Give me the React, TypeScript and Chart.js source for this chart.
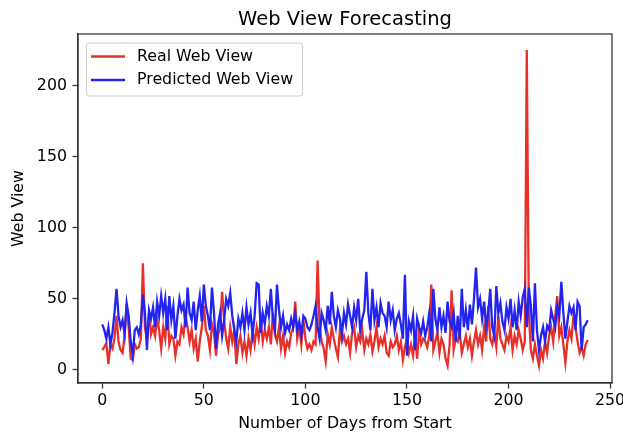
import React, { useEffect, useRef } from "react";
import { Chart, registerables } from "chart.js";

Chart.register(...registerables);

const TITLE = "Web View Forecasting";
const X_LABEL = "Number of Days from Start";
const Y_LABEL = "Web View";
const SERIES_NAMES = ["Real Web View", "Predicted Web View"];
const X_TICKS = [0, 50, 100, 150, 200, 250];
const Y_TICKS = [0, 50, 100, 150, 200];

const realViews = [
  14, 16, 19, 4, 18, 15, 22, 38, 20, 14,
  12, 24, 46, 30, 8, 7, 18, 15, 16, 22,
  75, 30, 22, 40, 25, 30, 24, 36, 28, 15,
  30, 22, 45, 18, 24, 22, 10, 20, 18, 30,
  25, 38, 30, 20, 28, 15, 22, 6, 20, 30,
  45, 28, 24, 14, 32, 26, 10, 25, 30, 55,
  35, 22, 15, 30, 20, 28, 4, 18, 24, 12,
  20, 10, 22, 14, 28, 18, 30, 22, 35, 20,
  28, 22, 30, 18, 40, 25, 20, 30, 15, 24,
  12, 20, 16, 26, 30, 48, 22, 30, 18, 35,
  22, 15, 18, 14, 20, 18, 77, 30, 20, 15,
  6, 25, 18, 30, 22, 15, 9, 28, 20, 24,
  18, 22, 12, 26, 30, 16, 24, 20, 28, 14,
  22, 18, 25, 13, 20, 30, 16, 22, 18, 24,
  12, 10, 20, 16, 18, 24, 14, 20, 7, 16,
  22, 12, 18, 10, 24, 8, 28, 18, 22, 20,
  16, 24, 60, 14, 20, 26, 12, 22, 18, 8,
  3, 18, 56, 14, 22, 20, 26, 12, 18, 24,
  16, 22, 10, 20, 28, 18, 24, 14, 30, 20,
  45, 22, 18, 26, 16, 38, 22, 18, 14, 24,
  20, 30, 14, 24, 18, 28, 22, 14, 20, 225,
  40, 14, 8, 18, 10, 3, 14, 8, 20, 12,
  24, 30, 20, 38, 52, 24, 30, 18, 5, 20,
  28, 22, 38, 30, 20, 12, 16, 10, 18, 21,
];

const predictedViews = [
  32, 28, 22, 30, 18, 26, 40, 57, 38, 30,
  35, 25, 47, 38, 20, 10, 28, 30, 25, 32,
  53, 40, 14, 42, 36, 44, 30, 48, 38, 52,
  40, 50, 28, 52, 35, 45, 22, 38, 50, 42,
  46, 30, 58, 40, 35, 48, 28, 42, 52, 34,
  60, 45, 38, 28, 58, 40, 15, 32, 40, 24,
  35, 50, 45, 54, 38, 28, 20, 36, 30, 40,
  28, 44, 32, 40, 25, 38, 61, 60, 26, 40,
  32, 45, 38, 57, 36, 28, 60, 42, 30, 38,
  26, 32, 28, 36, 30, 40, 28, 34, 24, 38,
  36, 30, 28, 32, 38, 45, 30, 22, 40, 35,
  28, 45, 32, 55, 38, 30, 42, 36, 25, 40,
  32, 46, 38, 30, 44, 35, 50, 28, 36, 42,
  69, 40, 28, 57, 35, 44, 30, 47, 40, 38,
  30, 48, 35, 42, 28, 36, 40, 32, 22, 67,
  10, 34, 28, 38, 14, 36, 30, 26, 34, 24,
  30, 40, 20, 57, 36, 28, 44, 30, 38, 26,
  48, 34, 30, 40, 20, 38, 22, 57, 30, 42,
  28, 46, 32, 50, 72, 44, 50, 36, 48, 30,
  40, 57, 30, 24, 59, 40, 47, 34, 28, 44,
  36, 50, 30, 42, 28, 48, 38, 51, 57, 30,
  58, 45, 20, 61, 28, 14, 24, 30, 20, 31,
  28, 42, 36, 30, 45, 38, 62, 40, 22, 34,
  45, 40, 44, 28, 48, 45, 14, 30, 32, 35,
];

const RED = "#e8302a";
const BLUE = "#2424f0";
const SPINE = "#333333";
const FONT_FAMILY = "'DejaVu Sans', 'Liberation Sans', sans-serif";
const BASE = 15.8;

const overlayPlugin = {
  id: "overlay",
  afterDraw(chart: any) {
    const { ctx, chartArea: a } = chart;
    ctx.save();
    // full frame (top & right spines)
    ctx.strokeStyle = SPINE;
    ctx.lineWidth = 1.26;
    ctx.strokeRect(a.left, a.top, a.right - a.left, a.bottom - a.top);

    // title
    ctx.fillStyle = "#000";
    ctx.font = `19.5px ${FONT_FAMILY}`;
    ctx.textAlign = "center";
    ctx.textBaseline = "alphabetic";
    ctx.fillText(TITLE, (a.left + a.right) / 2, a.top - 9.5);

    // legend
    const bx = a.left + 8.5;
    const by = a.top + 9;
    const bw = 216;
    const bh = 53;
    const r = 3;
    ctx.beginPath();
    ctx.moveTo(bx + r, by);
    ctx.lineTo(bx + bw - r, by);
    ctx.arcTo(bx + bw, by, bx + bw, by + r, r);
    ctx.lineTo(bx + bw, by + bh - r);
    ctx.arcTo(bx + bw, by + bh, bx + bw - r, by + bh, r);
    ctx.lineTo(bx + r, by + bh);
    ctx.arcTo(bx, by + bh, bx, by + bh - r, r);
    ctx.lineTo(bx, by + r);
    ctx.arcTo(bx, by, bx + r, by, r);
    ctx.closePath();
    ctx.fillStyle = "rgba(255,255,255,0.8)";
    ctx.fill();
    ctx.strokeStyle = "#cccccc";
    ctx.lineWidth = 1;
    ctx.stroke();

    const rows = [by + 13.5, by + 37];
    chart.data.datasets.forEach((ds: any, i: number) => {
      const y = rows[i];
      ctx.strokeStyle = ds.borderColor;
      ctx.lineWidth = 2.4;
      ctx.beginPath();
      ctx.moveTo(bx + 4.5, y);
      ctx.lineTo(bx + 38.5, y);
      ctx.stroke();
      ctx.fillStyle = "#000";
      ctx.font = `${BASE}px ${FONT_FAMILY}`;
      ctx.textAlign = "left";
      ctx.textBaseline = "middle";
      ctx.fillText(ds.label, bx + 50.5, y);
    });
    ctx.restore();
  },
};

export default function App() {
  const canvasRef = useRef<HTMLCanvasElement | null>(null);

  useEffect(() => {
    const canvas = canvasRef.current;
    if (!canvas) return;
    const tickFont = { family: FONT_FAMILY, size: BASE };
    const chart = new Chart(canvas, {
      type: "line",
      data: {
        datasets: [
          {
            label: SERIES_NAMES[0],
            data: realViews.map((v, i) => ({ x: i, y: v })),
            borderColor: RED,
            backgroundColor: RED,
            borderWidth: 2.3,
            pointRadius: 0,
            tension: 0,
            order: 2,
          },
          {
            label: SERIES_NAMES[1],
            data: predictedViews.map((v, i) => ({ x: i, y: v })),
            borderColor: BLUE,
            backgroundColor: BLUE,
            borderWidth: 2.3,
            pointRadius: 0,
            tension: 0,
            order: 1,
          },
        ],
      },
      options: {
        animation: false,
        responsive: false,
        maintainAspectRatio: false,
        layout: { padding: { left: 0, right: 11, top: 34, bottom: 0 } },
        plugins: {
          legend: { display: false },
          tooltip: { enabled: false },
          title: { display: false },
        },
        scales: {
          x: {
            type: "linear",
            min: -11.95,
            max: 250.95,
            afterBuildTicks: (s: any) => {
              s.ticks = X_TICKS.map((v) => ({ value: v }));
            },
            afterFit: (s: any) => {
              s.height = 52;
              s.paddingLeft = 0;
              s.paddingRight = 0;
            },
            ticks: {
              font: tickFont,
              color: "#000",
              padding: 3,
              maxRotation: 0,
              autoSkip: false,
            },
            grid: {
              display: true,
              drawOnChartArea: false,
              drawTicks: true,
              tickLength: 5.5,
              tickWidth: 1.26,
              tickColor: SPINE,
            },
            border: { display: true, color: SPINE, width: 1.26 },
            title: {
              display: true,
              text: X_LABEL,
              font: tickFont,
              color: "#000",
              padding: { top: 0, bottom: 1.5 },
            },
          },
          y: {
            type: "linear",
            min: -9.2,
            max: 236.3,
            afterBuildTicks: (s: any) => {
              s.ticks = Y_TICKS.map((v) => ({ value: v }));
            },
            afterFit: (s: any) => {
              s.width = 78;
              s.paddingTop = 0;
              s.paddingBottom = 0;
            },
            ticks: {
              font: tickFont,
              color: "#000",
              padding: 5.5,
              autoSkip: false,
            },
            grid: {
              display: true,
              drawOnChartArea: false,
              drawTicks: true,
              tickLength: 5.5,
              tickWidth: 1.26,
              tickColor: SPINE,
            },
            border: { display: true, color: SPINE, width: 1.26 },
            title: {
              display: true,
              text: Y_LABEL,
              font: tickFont,
              color: "#000",
              padding: { top: 9.2, bottom: 0 },
            },
          },
        },
      },
      plugins: [overlayPlugin],
    } as any);
    return () => chart.destroy();
  }, []);

  return (
    <div style={{ position: "absolute", left: 0, top: 0, width: 623, height: 435, background: "#fff" }}>
      <canvas ref={canvasRef} width={623} height={435} style={{ width: 623, height: 435, display: "block" }} />
    </div>
  );
}
